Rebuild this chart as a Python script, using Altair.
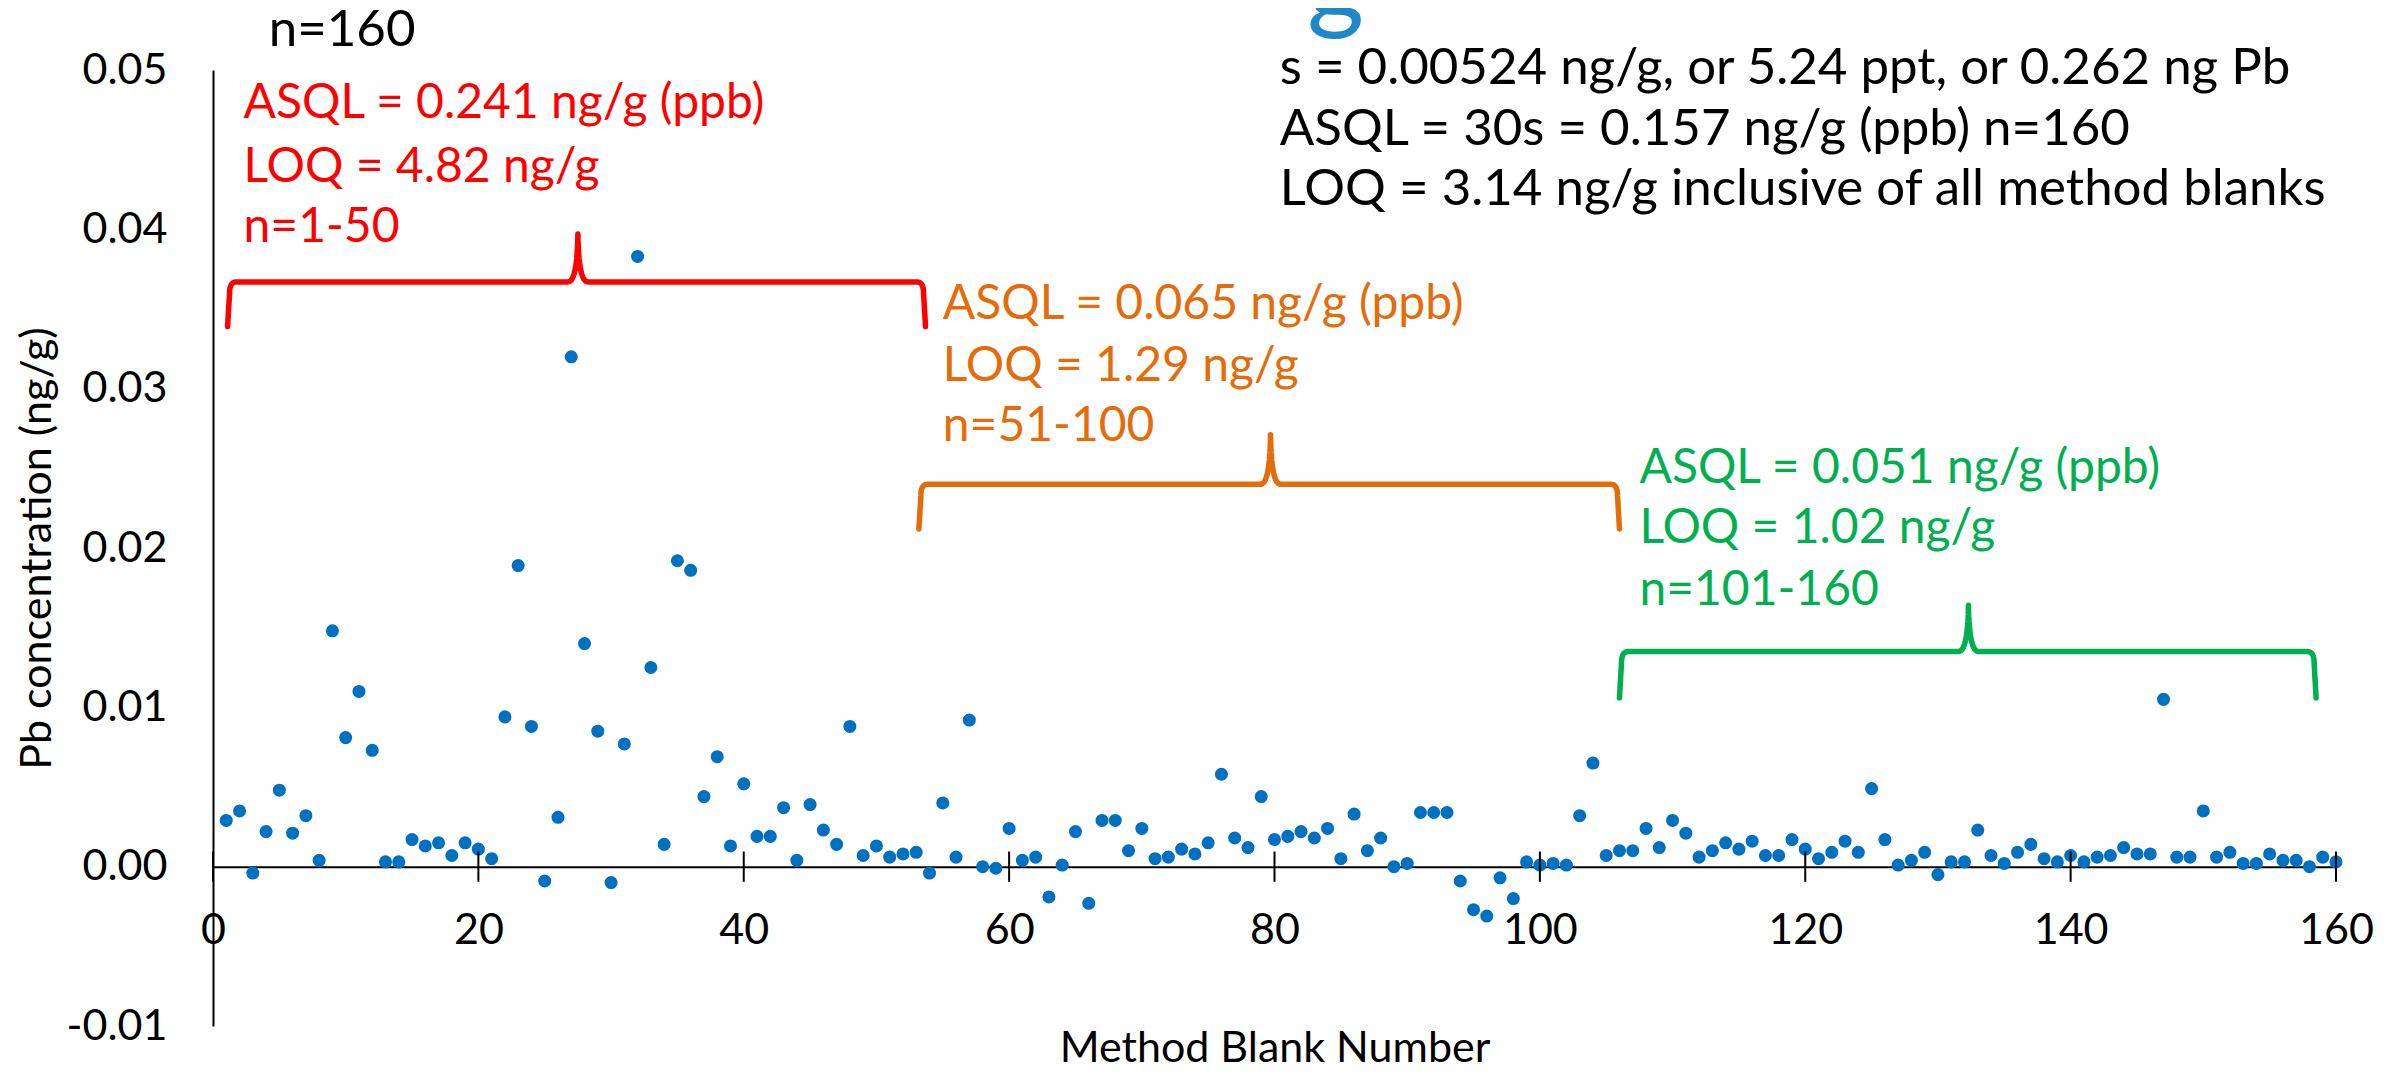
import altair as alt
import pandas as pd

# ---------------- data ----------------
blank_no = list(range(1, 161))
pb_conc = [
    0.0029, 0.0035, -0.0004, 0.0022, 0.0048, 0.0021, 0.0032, 0.0004, 0.0148, 0.0081,
    0.0110, 0.0073, 0.0003, 0.0003, 0.0017, 0.0013, 0.0015, 0.0007, 0.0015, 0.0011,
    0.0005, 0.0094, 0.0189, 0.0088, -0.0009, 0.0031, 0.0320, 0.0140, 0.0085, -0.0010,
    0.0077, 0.0383, 0.0125, 0.0014, 0.0192, 0.0186, 0.0044, 0.0069, 0.0013, 0.0052,
    0.0019, 0.0019, 0.0037, 0.0004, 0.0039, 0.0023, 0.0014, 0.0088, 0.0007, 0.0013,
    0.0006, 0.0008, 0.0009, -0.0004, 0.0040, 0.0006, 0.0092, 0.0000, -0.0001, 0.0024,
    0.0004, 0.0006, -0.0019, 0.0001, 0.0022, -0.0023, 0.0029, 0.0029, 0.0010, 0.0024,
    0.0005, 0.0006, 0.0011, 0.0008, 0.0015, 0.0058, 0.0018, 0.0012, 0.0044, 0.0017,
    0.0019, 0.0022, 0.0018, 0.0024, 0.0005, 0.0033, 0.0010, 0.0018, 0.0000, 0.0002,
    0.0034, 0.0034, 0.0034, -0.0009, -0.0027, -0.0031, -0.0007, -0.0020, 0.0003, 0.0001,
    0.0002, 0.0001, 0.0032, 0.0065, 0.0007, 0.0010, 0.0010, 0.0024, 0.0012, 0.0029,
    0.0021, 0.0006, 0.0010, 0.0015, 0.0011, 0.0016, 0.0007, 0.0007, 0.0017, 0.0011,
    0.0005, 0.0009, 0.0016, 0.0009, 0.0049, 0.0017, 0.0001, 0.0004, 0.0009, -0.0005,
    0.0003, 0.0003, 0.0023, 0.0007, 0.0002, 0.0009, 0.0014, 0.0005, 0.0003, 0.0007,
    0.0003, 0.0006, 0.0007, 0.0012, 0.0008, 0.0008, 0.0105, 0.0006, 0.0006, 0.0035,
    0.0006, 0.0009, 0.0002, 0.0002, 0.0008, 0.0004, 0.0004, 0.0000, 0.0006, 0.0003,
]

x_ticks = [0, 20, 40, 60, 80, 100, 120, 140, 160]
y_ticks = [-0.01, 0.0, 0.01, 0.02, 0.03, 0.04, 0.05]

# braces (one per group of blanks)
brace_names = ["n1-50", "n51-100", "n101-160"]
brace_colors = ["#FF0000", "#E46C0A", "#00B050"]
brace_x0 = [1.1, 53.2, 106.0]
brace_x1 = [53.7, 106.0, 158.5]
brace_xc = [27.5, 79.7, 132.3]
brace_ybase = [0.0339, 0.0212, 0.0106]
brace_yline = [0.0367, 0.0240, 0.0135]
brace_ytop = [0.0397, 0.0271, 0.0164]

# annotation texts
group_text = [
    "ASQL = 0.241 ng/g (ppb)", "LOQ = 4.82 ng/g", "n=1-50",
    "ASQL = 0.065 ng/g (ppb)", "LOQ = 1.29 ng/g", "n=51-100",
    "ASQL = 0.051 ng/g (ppb)", "LOQ = 1.02 ng/g", "n=101-160",
]
group_x = [2.3, 2.3, 2.3, 55.0, 55.0, 55.0, 107.5, 107.5, 107.5]
group_y = [0.0470, 0.0430, 0.0392, 0.0344, 0.0305, 0.0267, 0.0241, 0.0203, 0.0164]
group_color = ["#FF0000"] * 3 + ["#E46C0A"] * 3 + ["#00B050"] * 3

summary_text = [
    "n=160",
    "s = 0.00524 ng/g, or 5.24 ppt, or 0.262 ng Pb",
    "ASQL = 30s = 0.157 ng/g (ppb) n=160",
    "LOQ = 3.14 ng/g inclusive of all method blanks",
]
summary_x = [4.2, 80.4, 80.4, 80.4]
summary_y = [0.0515, 0.0491, 0.0453, 0.0415]

# ---------------- build tables ----------------
pts = pd.DataFrame({"n": blank_no, "pb": pb_conc})


def quad(p0, c, p1, steps=10):
    out = []
    for k in range(1, steps + 1):
        t = k / steps
        x = (1 - t) ** 2 * p0[0] + 2 * (1 - t) * t * c[0] + t ** 2 * p1[0]
        y = (1 - t) ** 2 * p0[1] + 2 * (1 - t) * t * c[1] + t ** 2 * p1[1]
        out.append((x, y))
    return out


rows = []
for name, x0, x1, xc, yb, yh, yt in zip(brace_names, brace_x0, brace_x1, brace_xc,
                                        brace_ybase, brace_yline, brace_ytop):
    rx, ry, sx, w = 0.5, 0.0007, 0.15, 0.75
    path = [(x0, yb), (x0 + sx, yh - ry)]
    path += quad((x0 + sx, yh - ry), (x0 + sx, yh), (x0 + sx + rx, yh))
    path += [(xc - w, yh)]
    path += quad((xc - w, yh), (xc - 0.05, yh), (xc, yt))
    path += quad((xc, yt), (xc + 0.05, yh), (xc + w, yh))
    path += [(x1 - sx - rx, yh)]
    path += quad((x1 - sx - rx, yh), (x1 - sx, yh), (x1 - sx, yh - ry))
    path += [(x1, yb)]
    for i, (px, py) in enumerate(path):
        rows.append({"brace": name, "i": i, "x": px, "y": py})
braces = pd.DataFrame(rows)

groups = pd.DataFrame({"x": group_x, "y": group_y, "t": group_text, "c": group_color})
summ = pd.DataFrame({"x": summary_x, "y": summary_y, "t": summary_text})
ticks = pd.DataFrame({"x": x_ticks, "lo": [-0.00095] * len(x_ticks), "hi": [0.00095] * len(x_ticks)})
ghost = pd.DataFrame({"x": [84.6], "y": [0.0532], "t": ["g"]})

W, H = 2123, 956
zero_px = H * 0.05 / 0.06

xscale = alt.Scale(domain=[0, 160], nice=False, zero=False)
yscale = alt.Scale(domain=[-0.01, 0.05], nice=False, zero=False)
FONT = "Lato"

xaxis = alt.Axis(
    values=x_ticks, title="Method Blank Number", offset=-(H - zero_px),
    grid=False, ticks=False, domainColor="#000000", domainWidth=2,
    labelFont=FONT, labelFontSize=43, labelColor="#000000", labelPadding=43,
    labelFlush=False,
    titleFont=FONT, titleFontSize=43, titleFontWeight="normal", titleColor="#000000",
    titleX=W / 2, titleY=195, titleBaseline="alphabetic", titleAlign="center",
)
yaxis = alt.Axis(
    values=y_ticks, title="Pb concentration (ng/g)",
    grid=False, ticks=False, domainColor="#000000", domainWidth=2,
    labelFont=FONT, labelFontSize=43, labelColor="#000000", labelPadding=46,
    labelExpr="datum.value < 0 ? '-' + format(abs(datum.value), '.2f') : format(datum.value, '.2f')",
    titleFont=FONT, titleFontSize=43, titleFontWeight="normal", titleColor="#000000",
    titleX=-176, titleY=H / 2, titleAngle=-90, titleBaseline="middle", titleAlign="center",
)

points = alt.Chart(pts).mark_circle(size=170, opacity=1, color="#0070C0").encode(
    x=alt.X("n:Q", scale=xscale, axis=xaxis),
    y=alt.Y("pb:Q", scale=yscale, axis=yaxis),
)

tick_marks = alt.Chart(ticks).mark_rule(color="#000000", strokeWidth=2).encode(
    x=alt.X("x:Q", scale=xscale),
    y=alt.Y("lo:Q", scale=yscale),
    y2="hi:Q",
)

brace_lines = alt.Chart(braces).mark_line(strokeWidth=5.5, strokeCap="round", strokeJoin="round").encode(
    x=alt.X("x:Q", scale=xscale),
    y=alt.Y("y:Q", scale=yscale),
    color=alt.Color("brace:N", scale=alt.Scale(domain=brace_names, range=brace_colors), legend=None),
    order=alt.Order("i:Q"),
    detail="brace:N",
)

group_texts = alt.Chart(groups).mark_text(align="left", baseline="alphabetic", font=FONT, fontSize=48).encode(
    x=alt.X("x:Q", scale=xscale),
    y=alt.Y("y:Q", scale=yscale),
    text="t:N",
    color=alt.Color("c:N", scale=None),
)

summary_texts = alt.Chart(summ).mark_text(align="left", baseline="alphabetic", font=FONT,
                                          fontSize=51, color="#000000").encode(
    x=alt.X("x:Q", scale=xscale),
    y=alt.Y("y:Q", scale=yscale),
    text="t:N",
)

ghost_g = alt.Chart(ghost).mark_text(align="center", baseline="alphabetic", font=FONT,
                                     fontSize=110, color="#1E88C8").encode(
    x=alt.X("x:Q", scale=xscale),
    y=alt.Y("y:Q", scale=yscale),
    text="t:N",
)

chart = alt.layer(points, tick_marks, brace_lines, group_texts, summary_texts, ghost_g).properties(
    width=W, height=H,
    autosize=alt.AutoSizeParams(type="none"),
    padding={"left": 205, "top": 62, "right": 50, "bottom": 40},
    background="#FFFFFF",
).configure_view(stroke=None)

chart.save("out.html", embed_options={"renderer": "svg", "actions": False})
